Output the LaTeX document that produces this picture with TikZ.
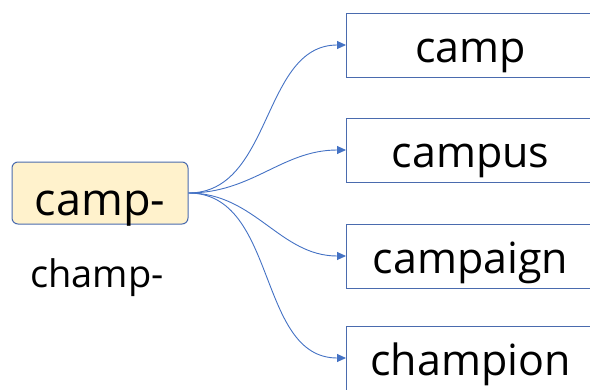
\documentclass[tikz,border=0pt]{standalone}
\usepackage{fontspec}
\setmainfont{Open Sans}
\usetikzlibrary{arrows.meta}
\definecolor{lineblue}{HTML}{4472C4}
\definecolor{boxblue}{HTML}{4A6BAE}
\definecolor{rootfill}{HTML}{FFF2CC}
\tikzset{
  root/.style={draw=boxblue,fill=rootfill,rounded corners=6pt,line width=1pt,
    minimum width=176pt,minimum height=62pt,inner sep=2pt,
    text height=46pt,text depth=2pt,font=\fontsize{45}{50}\selectfont},
  word/.style={draw=boxblue,line width=1pt,anchor=west,minimum height=64pt,
    inner sep=2pt,text width=244pt,align=center,text height=36pt,text depth=2pt,
    font=\fontsize{43}{48}\selectfont},
  link/.style={-{Triangle[length=9pt,width=8pt]},lineblue,line width=0.9pt}
}
\begin{document}
\begin{tikzpicture}[x=1pt,y=-1pt]
    \useasboundingbox (0,0) rectangle (590,389);
    \clip (0,0) rectangle (590,389);
    % prefix and its variant
    \node[root] (camp) at (100,193) {camp-};
    \node[anchor=base,font=\fontsize{38}{42}\selectfont] (champ) at (97,287) {champ-};
    % words built on the prefix
    \node[word] (w1) at (346,45) {camp};
    \node[word] (w2) at (346,150) {campus};
    \node[word] (w3) at (346,256) {campaign};
    \node[word] (w4) at (346,358) {champion};
    % links
    \foreach \w in {w1,w2,w3,w4}
      \draw[link] (camp.east) to[out=0,in=180] (\w.west);
\end{tikzpicture}
\end{document}
